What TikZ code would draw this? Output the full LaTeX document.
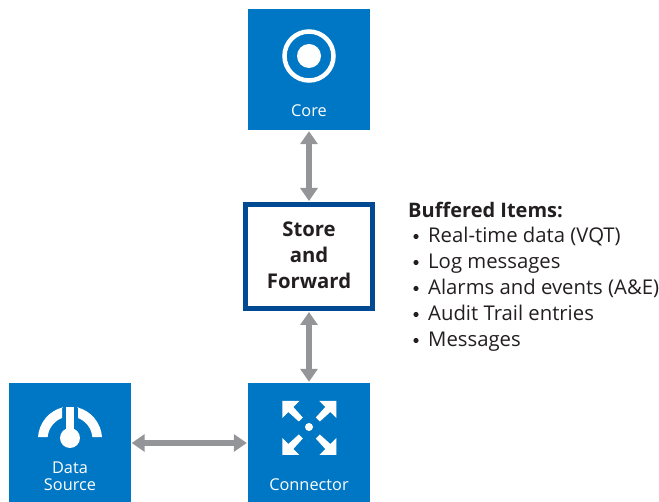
\documentclass[tikz,border=0pt]{standalone}
\usepackage{fontspec}
\setmainfont{Open Sans}
\usetikzlibrary{arrows.meta}
\definecolor{tile}{HTML}{0077C4}
\definecolor{navy}{HTML}{004A93}
\definecolor{arrowgray}{HTML}{939598}
\definecolor{ink}{HTML}{231F20}
\tikzset{
  tile/.style={fill=tile,draw=none,inner sep=0pt,minimum width=122pt,minimum height=120pt},
  tilelabel/.style={text=white,font=\fontsize{16.3}{17.5}\selectfont,align=center,inner sep=0pt},
  link/.style={draw=arrowgray,line width=6pt,{Triangle[length=13pt,width=17pt]}-{Triangle[length=13pt,width=17pt]},shorten >=1pt,shorten <=1pt},
  listline/.style={text=ink,font=\fontsize{20.3}{22}\selectfont,anchor=base west,inner sep=0pt},
}
\begin{document}
\begin{tikzpicture}[x=1pt,y=-1pt]
\useasboundingbox (0,0) rectangle (659,502);
\node[tile,minimum height=121pt] (core) at (309,69.5) {};
\node[tile] (source) at (69.5,443) {};
\node[tile] (conn) at (309,443) {};
\node[draw=navy,line width=5pt,fill=white,minimum width=127pt,minimum height=104pt,inner sep=0pt] (sf) at (309,256.5) {};
\node[text=ink,font=\bfseries\fontsize{20.3}{26}\selectfont,align=center,inner sep=0pt] (sftext) at (309,255.5) {Store\\and\\Forward};
\draw[link] (core) -- (sf);
\draw[link] (sf) -- (conn);
\draw[link] (source) -- (conn);
% core icon
\draw[white,line width=4.5pt] (309,56) circle (24.5pt);
\fill[white] (309,56) circle (12pt);
\node[tilelabel] (corelabel) at (309,110.5) {Core};
% gauge icon
\fill[white] (62,407) -- (62,418) arc[start angle=111,end angle=175,radius=22.5pt] -- (38,437) arc[start angle=176,end angle=104,radius=33pt] -- cycle;
\fill[white] (78,407) -- (78,418) arc[start angle=69,end angle=5,radius=22.5pt] -- (102,437) arc[start angle=4,end angle=76,radius=33pt] -- cycle;
\fill[white] (66,407) rectangle (74,432);
\fill[white] (70,438) circle (10pt);
\node[tilelabel] (sourcelabel) at (70,476.5) {Data\\Source};
% connector icon
\fill[white] (309,427) circle (4pt);
\foreach \r in {0,90,180,270}{
  \fill[white,shift={(309.3,428)},rotate=\r] (-27,-27) -- (-10,-27) -- (-16,-21) -- (-6.5,-10.5) -- (-10.5,-6.5) -- (-21,-16) -- (-27,-10) -- cycle;
}
\node[tilelabel] (connlabel) at (309,485) {Connector};
% list
\node[listline,font=\bfseries\fontsize{20}{22}\selectfont] (head) at (408,218) {Buffered Items:};
\foreach \n/\yy/\t in {a/243/Real-time data (VQT),b/269/Log messages,c/295/Alarms and events (A\&E),d/321/Audit Trail entries,e/347/Messages}{
  \node[listline] (bul\n) at (416,\yy-6.5) [anchor=center,font=\fontsize{20}{22}\selectfont] {};
  \fill[ink] (bul\n) circle (2.6pt);
  \node[listline] (item\n) at (428,\yy) {\t};
}
\end{tikzpicture}
\end{document}
